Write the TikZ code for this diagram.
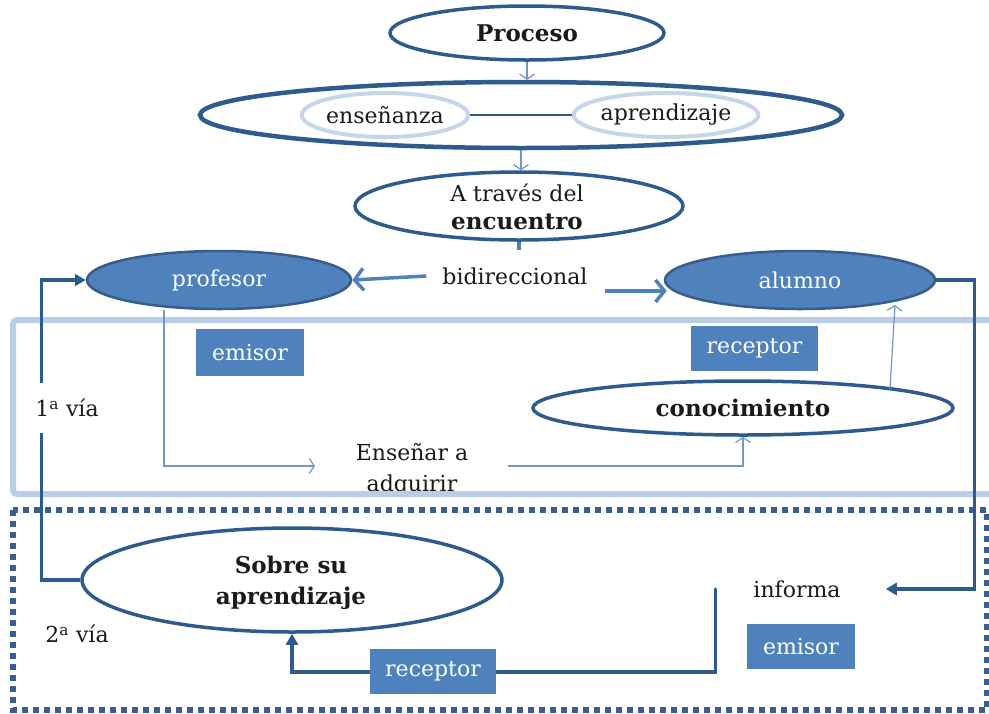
\documentclass[tikz,border=0pt]{standalone}
\usepackage{fontspec}
\setmainfont{DejaVu Serif}
\usetikzlibrary{arrows.meta,shapes.geometric}
\definecolor{dk}{HTML}{2E5B8E}
\definecolor{dkb}{HTML}{385D8A}
\definecolor{md}{HTML}{4F81BD}
\definecolor{lt}{HTML}{B9CDE5}
\definecolor{ltell}{HTML}{C6D6EA}
\definecolor{thin}{HTML}{7397C4}
\definecolor{tc}{HTML}{1A1A1A}
\definecolor{dots}{HTML}{3B5E8F}
\begin{document}
\begin{tikzpicture}[x=1pt,y=-1pt,
  fs/.style={font=\fontsize{22}{30}\selectfont},
  darkell/.style={ellipse,draw=dk,line width=3.5pt,fill=white,inner sep=0pt},
  lightell/.style={ellipse,draw=ltell,line width=4pt,fill=white,inner sep=0pt,fs,text=tc},
  fillell/.style={ellipse,draw=dkb,line width=2.5pt,fill=md,inner sep=0pt,fs,text=white},
  bx/.style={rectangle,fill=md,inner sep=0pt,fs,text=white},
  txt/.style={inner sep=0pt,fs,text=tc,align=center},
  btxt/.style={txt,font=\fontsize{23}{30}\selectfont\bfseries},
  thinarr/.style={draw=thin,line width=1.2pt,-{Straight Barb[length=5pt,width=15pt]}},
  bidiarr/.style={draw=md,line width=3.5pt,-{Straight Barb[length=9pt,width=22pt]}},
  darkarr/.style={draw=dk,line width=3.5pt,-{Triangle[length=11pt,width=12pt]}}
]
\useasboundingbox (0,0) rectangle (989,713);
\fill[white] (0,0) rectangle (989,713);

% texts that the frame overlaps
\node[txt,anchor=base] (ens1) at (412,460) {Enseñar a};
\node[txt,anchor=base] (ens2) at (412,491) {adquirir};

% frames
\draw[draw=lt,line width=6pt,rounded corners=4pt] (13,320) rectangle (1010,494);
\draw[draw=dots,line width=6pt,dash pattern=on 6pt off 5pt] (13,510) rectangle (987,710);

% nodes
\node[darkell,minimum width=274pt,minimum height=54pt] (pro) at (527,33) {};
\node[btxt] at (pro) {Proceso};
\node[darkell,line width=4.5pt,minimum width=642pt,minimum height=66pt] (big) at (521,115) {};
\node[lightell,minimum width=166pt,minimum height=44pt] (ens) at (385,115) {enseñanza};
\node[lightell,minimum width=182pt,minimum height=44pt] (apr) at (666,115) {aprendizaje};
\node[darkell,minimum width=328pt,minimum height=68pt] (tra) at (519,206) {};
\node[txt,anchor=base] (tra1) at (517,201) {A través del};
\node[btxt,anchor=base] (tra2) at (517,229) {encuentro};
\node[fillell,minimum width=264pt,minimum height=58pt] (prof) at (219,280) {profesor};
\node[fillell,minimum width=270pt,minimum height=58pt] (alum) at (800,280) {alumno};
\node[txt] (bid) at (515,276) {bidireccional};
\node[bx,minimum width=108pt,minimum height=47pt] (em1) at (250,352.5) {emisor};
\node[bx,minimum width=127pt,minimum height=45pt] (re1) at (754.5,348.5) {receptor};
\node[darkell,minimum width=420pt,minimum height=54pt] (cono) at (743,408) {};
\node[btxt] at (cono) {conocimiento};
\node[darkell,minimum width=420pt,minimum height=104pt] (sobre) at (292,580) {};
\node[btxt,anchor=base] (sob1) at (291,573) {Sobre su};
\node[btxt,anchor=base] (sob2) at (291,604) {aprendizaje};
\node[txt] (inf) at (797,589) {informa};
\node[bx,minimum width=108pt,minimum height=45pt] (em2) at (801,646.5) {emisor};

\coordinate (ea) at (315,466);
\coordinate (eb) at (508,466);
\coordinate (stub) at (519,250);
\coordinate (ra) at (605,291);

% connectors
\draw[thinarr] (pro.south) -- (pro.south |- big.north);
\draw[thinarr] (big.south) -- (big.south |- tra.north);
\draw[draw=dk,line width=1.5pt] (ens.east) -- (apr.west);
\draw[draw=md,line width=4pt] (tra.south) -- (stub);
\draw[bidiarr] ([xshift=-16pt]bid.west) -- (prof.east);
\draw[bidiarr] (ra) -- ([xshift=3pt]ra -| alum.west);
\draw[thinarr] ([xshift=-55pt]prof.south) |- (ea);
\draw[thinarr] (eb) -| (cono.south);
\draw[thinarr] ([xshift=147pt,yshift=19pt]cono.center) -- ([xshift=95pt,yshift=-25pt]alum.center);

\draw[darkarr] (sobre.west) -- ++(-39,0) |- (prof.west);
\draw[darkarr] (alum.east) -- ++(38,0) |- ([xshift=45pt]inf.east);
\draw[darkarr,line cap=round] ([xshift=-38pt]inf.west) -- ++(0,83) -| (sobre.south);

\node[bx,minimum width=126pt,minimum height=45pt] (re2) at (433,671.5) {receptor};

\node[txt,fill=white,minimum height=50pt,inner xsep=1pt] (via1) at (67,408) {1\textsuperscript{a} vía};
\node[txt] (via2) at (77,634) {2\textsuperscript{a} vía};
\end{tikzpicture}
\end{document}
